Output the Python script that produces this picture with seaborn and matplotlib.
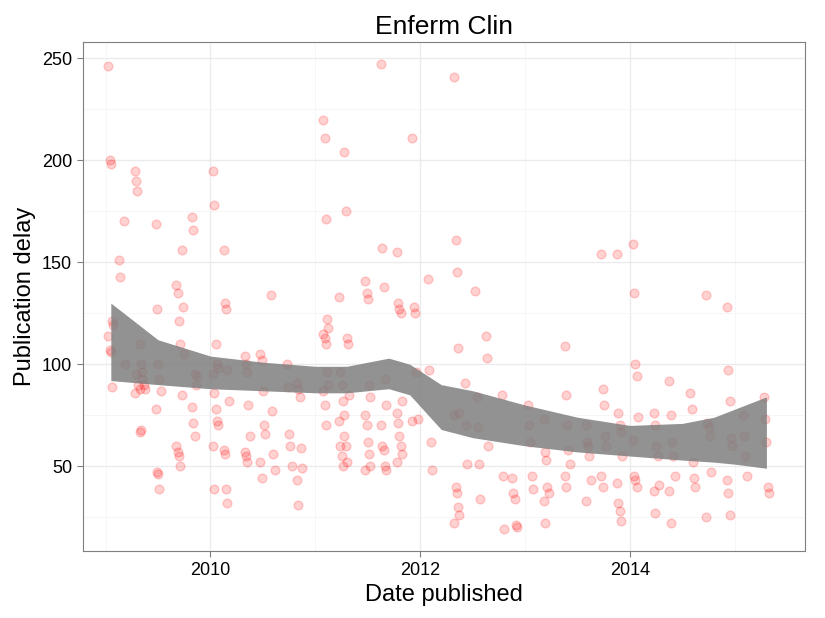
import numpy as np
import pandas as pd
import matplotlib
matplotlib.use("Agg")
import matplotlib.pyplot as plt
import seaborn as sns

# points: date (decimal year) -> delays
groups = {
    2009.05: [246, 200, 198, 121, 119, 114, 107, 106, 89],
    2009.15: [151, 143], 2009.2: [170, 100],
    2009.3: [195, 190, 185, 90, 88, 86, 95],
    2009.35: [110, 100, 93, 90, 88, 67, 68, 96],
    2009.5: [169, 127, 100, 93, 87, 78, 47, 46, 39],
    2009.7: [139, 135, 121, 110, 85, 60, 57, 55, 50],
    2009.75: [156, 128, 105],
    2009.85: [172, 166, 95, 90, 94, 79, 71, 65],
    2010.05: [195, 178, 110, 100, 98, 95, 86, 78, 72, 70, 60, 39],
    2010.15: [156, 130, 127, 97, 82, 58, 56, 39, 32],
    2010.35: [104, 100, 96, 80, 65, 57, 55, 52],
    2010.5: [105, 102, 87, 70, 66, 52, 44],
    2010.6: [134, 77, 56, 48],
    2010.75: [100, 89, 66, 60, 50],
    2010.85: [91, 88, 84, 59, 49, 43, 31],
    2011.1: [220, 211, 171, 122, 118, 115, 113, 110, 96, 90, 87, 80, 70],
    2011.25: [133, 96, 90, 82, 75, 72, 60, 55, 50],
    2011.3: [204, 175, 113, 110, 85, 65, 60, 52],
    2011.5: [141, 135, 132, 90, 84, 75, 70, 62, 56, 50, 48],
    2011.65: [247, 157, 138, 93, 80, 70, 60, 58, 50, 48],
    2011.8: [155, 130, 127, 125, 82, 76, 71, 65, 60, 56, 52],
    2011.95: [211, 128, 125, 96, 73, 72],
    2012.1: [142, 97, 62, 48],
    2012.35: [241, 161, 145, 108, 76, 75, 40, 37, 30, 26, 22],
    2012.45: [91, 70, 51],
    2012.55: [136, 84, 69, 51, 34],
    2012.65: [114, 103, 60],
    2012.8: [85, 45, 19],
    2012.9: [44, 37, 34, 21, 20],
    2013.05: [80, 70, 62, 45, 39],
    2013.2: [73, 57, 53, 40, 37, 33, 22],
    2013.4: [109, 85, 70, 58, 51, 45, 40],
    2013.6: [70, 62, 60, 55, 43, 33],
    2013.75: [154, 88, 80, 65, 60, 45, 40],
    2013.9: [154, 76, 70, 67, 55, 42, 32, 28, 23],
    2014.05: [159, 135, 100, 94, 74, 63, 45, 43, 40],
    2014.25: [76, 70, 60, 55, 41, 38, 27],
    2014.4: [92, 75, 62, 55, 45, 38, 22],
    2014.6: [86, 78, 52, 44, 40],
    2014.75: [134, 71, 69, 65, 47, 25],
    2014.95: [128, 97, 82, 64, 60, 43, 37, 26],
    2015.1: [75, 65, 55, 45],
    2015.3: [84, 73, 62, 40, 37],
}

# smoother band
band_x = [2009.05, 2009.5, 2010, 2010.5, 2011, 2011.3, 2011.7, 2011.9, 2012.2,
          2012.5, 2013, 2013.5, 2014, 2014.5, 2014.8, 2015, 2015.3]
band_lo = [92, 90, 88, 87, 86, 86, 88, 85, 68, 64, 60, 57, 55, 53, 52, 51, 49]
band_hi = [130, 112, 104, 101, 99, 99, 103, 100, 90, 87, 80, 74, 70, 71, 74, 78, 84]

rows = []
for d, vals in groups.items():
    for j, v in enumerate(vals):
        rows.append((d + 0.012 * ((j % 5) - 2), v))
df = pd.DataFrame(rows, columns=["date", "delay"])

sns.set_style("white")
plt.rcParams['font.family'] = ['Liberation Sans', 'DejaVu Sans']

fig, ax = plt.subplots(figsize=(8.25, 6.18), dpi=100)
ax.set_axisbelow(True)
ax.fill_between(band_x, band_lo, band_hi, color="#7f7f7f", alpha=0.85, lw=0, zorder=3)
sns.scatterplot(data=df, x="date", y="delay", ax=ax, color="red", alpha=0.18,
                s=40, edgecolor="red", linewidth=1, zorder=2)

ax.set_xlim(2008.78, 2015.67)
ax.set_ylim(8.3, 258)
ax.set_xticks([2010, 2012, 2014])
ax.set_xticks([2009, 2011, 2013, 2015], minor=True)
ax.set_yticks([50, 100, 150, 200, 250])
ax.set_yticks([25, 75, 125, 175, 225], minor=True)
ax.grid(True, which="major", color="#ebebeb", lw=1)
ax.grid(True, which="minor", color="#f5f5f5", lw=0.6)
ax.tick_params(which="major", length=4, color="#7f7f7f", labelsize=13, labelcolor="black", bottom=True, left=True)
ax.tick_params(which="minor", length=0)
for s in ax.spines.values():
    s.set_color("#7f7f7f")
ax.set_xlabel("Date published", fontsize=17, color="black")
ax.set_ylabel("Publication delay", fontsize=17, color="black")
ax.set_title("Enferm Clin", fontsize=19, color="black")
fig.subplots_adjust(left=0.1, right=0.976, top=0.932, bottom=0.108)
fig.savefig("out.png", dpi=100)
